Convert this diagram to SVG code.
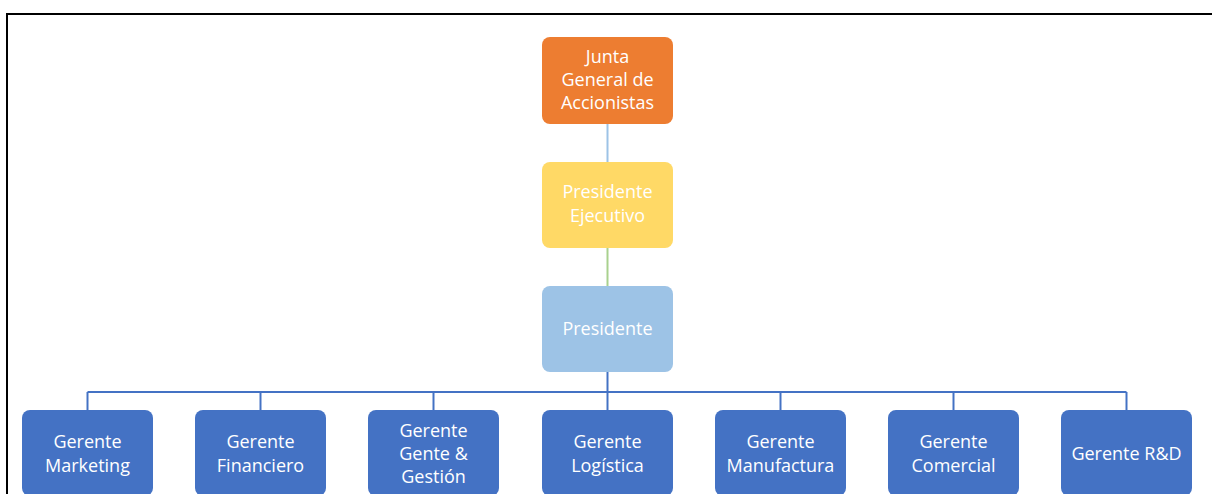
<svg xmlns="http://www.w3.org/2000/svg" width="1212" height="494" viewBox="0 0 1212 494">
<style>
.box{stroke:none}
.t{font-family:"Open Sans","Liberation Sans",sans-serif;font-size:18px;fill:#ffffff;text-anchor:middle}
.blue{fill:#4472C4}
</style>
<rect x="0" y="0" width="1212" height="494" fill="#ffffff"/>
<path d="M7 494 V14 H1212" fill="none" stroke="#000000" stroke-width="2"/>
<g id="connectors" fill="none">
<line x1="607.5" y1="124" x2="607.5" y2="162" stroke="#9DC3E6" stroke-width="2"/>
<line x1="607.5" y1="248" x2="607.5" y2="286" stroke="#A9D18E" stroke-width="2"/>
<g stroke="#4472C4" stroke-width="2">
<line x1="607.5" y1="372" x2="607.5" y2="410"/>
<line x1="87.5" y1="392" x2="1126.5" y2="392"/>
<line x1="87.5" y1="392" x2="87.5" y2="410"/>
<line x1="260.5" y1="392" x2="260.5" y2="410"/>
<line x1="433.5" y1="392" x2="433.5" y2="410"/>
<line x1="780.5" y1="392" x2="780.5" y2="410"/>
<line x1="953.5" y1="392" x2="953.5" y2="410"/>
<line x1="1126.5" y1="392" x2="1126.5" y2="410"/>
</g>
</g>
<g id="junta">
<rect x="542" y="37" width="131" height="87" rx="8" fill="#ED7D31"/>
<text class="t" x="607.5" y="63">Junta</text>
<text class="t" x="607.5" y="86">General de</text>
<text class="t" x="607.5" y="109">Accionistas</text>
</g>
<g id="presidente-ejecutivo">
<rect x="542" y="162" width="131" height="86" rx="8" fill="#FFD966"/>
<text class="t" x="607.5" y="198">Presidente</text>
<text class="t" x="607.5" y="222">Ejecutivo</text>
</g>
<g id="presidente">
<rect x="542" y="286" width="131" height="86" rx="8" fill="#9DC3E6"/>
<text class="t" x="607.5" y="335">Presidente</text>
</g>
<g id="gerente-marketing">
<rect class="blue" x="22" y="410" width="131" height="86" rx="8"/>
<text class="t" x="87.5" y="448">Gerente</text>
<text class="t" x="87.5" y="472">Marketing</text>
</g>
<g id="gerente-financiero">
<rect class="blue" x="195" y="410" width="131" height="86" rx="8"/>
<text class="t" x="260.5" y="448">Gerente</text>
<text class="t" x="260.5" y="472">Financiero</text>
</g>
<g id="gerente-gente">
<rect class="blue" x="368" y="410" width="131" height="86" rx="8"/>
<text class="t" x="433.5" y="437">Gerente</text>
<text class="t" x="433.5" y="460">Gente &amp;</text>
<text class="t" x="433.5" y="483">Gestión</text>
</g>
<g id="gerente-logistica">
<rect class="blue" x="542" y="410" width="131" height="86" rx="8"/>
<text class="t" x="607.5" y="448">Gerente</text>
<text class="t" x="607.5" y="472">Logística</text>
</g>
<g id="gerente-manufactura">
<rect class="blue" x="715" y="410" width="131" height="86" rx="8"/>
<text class="t" x="780.5" y="448">Gerente</text>
<text class="t" x="780.5" y="472">Manufactura</text>
</g>
<g id="gerente-comercial">
<rect class="blue" x="888" y="410" width="131" height="86" rx="8"/>
<text class="t" x="953.5" y="448">Gerente</text>
<text class="t" x="953.5" y="472">Comercial</text>
</g>
<g id="gerente-rd">
<rect class="blue" x="1061" y="410" width="131" height="86" rx="8"/>
<text class="t" x="1126.5" y="460">Gerente R&amp;D</text>
</g>
</svg>
